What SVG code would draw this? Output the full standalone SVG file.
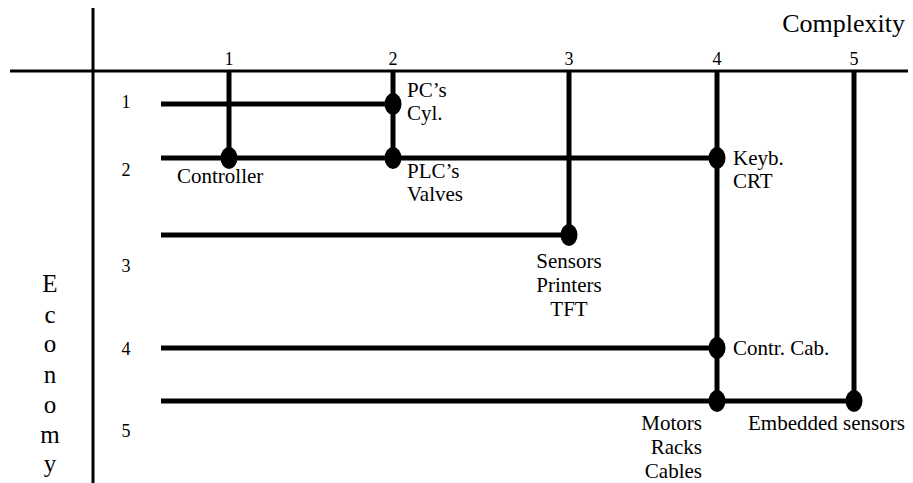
<svg xmlns="http://www.w3.org/2000/svg" width="913" height="483" viewBox="0 0 913 483">
<style>
text{font-family:"Liberation Serif","Times New Roman",serif;fill:#000}
.lab{font-size:21px}
.num{font-size:18px;text-anchor:middle}
.big{font-size:26px}
.eco{font-size:25px;text-anchor:middle}
.axis{stroke:#000;stroke-width:3;fill:none}
.ln{stroke:#000;stroke-width:5;fill:none}
.dot{fill:#000}
</style>
<g id="axes">
<line class="axis" x1="93" y1="8" x2="93" y2="483"/>
<line class="axis" x1="10" y1="71" x2="908" y2="71"/>
<text class="big" x="905" y="32" text-anchor="end">Complexity</text>
<text class="num" x="229" y="65">1</text>
<text class="num" x="393" y="65">2</text>
<text class="num" x="569" y="65">3</text>
<text class="num" x="717" y="65">4</text>
<text class="num" x="854" y="65">5</text>
<text class="num" x="126" y="108">1</text>
<text class="num" x="126" y="176">2</text>
<text class="num" x="126" y="272">3</text>
<text class="num" x="126" y="355">4</text>
<text class="num" x="126" y="437">5</text>
<text class="eco" x="50" y="292">E</text>
<text class="eco" x="50" y="323">c</text>
<text class="eco" x="50" y="352">o</text>
<text class="eco" x="50" y="383">n</text>
<text class="eco" x="50" y="413">o</text>
<text class="eco" x="50" y="443">m</text>
<text class="eco" x="50" y="472">y</text>
</g>
<g id="connectors">
<line class="ln" x1="161" y1="104" x2="393" y2="104"/>
<line class="ln" x1="161" y1="158" x2="717" y2="158"/>
<line class="ln" x1="161" y1="235" x2="569" y2="235"/>
<line class="ln" x1="161" y1="348" x2="717" y2="348"/>
<line class="ln" x1="161" y1="401" x2="854" y2="401"/>
<line class="ln" x1="229" y1="71" x2="229" y2="158"/>
<line class="ln" x1="393" y1="71" x2="393" y2="158"/>
<line class="ln" x1="569" y1="71" x2="569" y2="235"/>
<line class="ln" x1="717" y1="71" x2="717" y2="401"/>
<line class="ln" x1="854" y1="71" x2="854" y2="401"/>
</g>
<g id="n-pcs">
<ellipse class="dot" cx="393" cy="104" rx="8.5" ry="11"/>
<text class="lab" x="407" y="97">PC’s</text>
<text class="lab" x="407" y="120">Cyl.</text>
</g>
<g id="n-controller">
<ellipse class="dot" cx="229" cy="158" rx="8.5" ry="11"/>
<text class="lab" x="177" y="183">Controller</text>
</g>
<g id="n-plcs">
<ellipse class="dot" cx="393" cy="158" rx="8.5" ry="11"/>
<text class="lab" x="407" y="178">PLC’s</text>
<text class="lab" x="407" y="201">Valves</text>
</g>
<g id="n-keyb">
<ellipse class="dot" cx="717" cy="158" rx="8.5" ry="11"/>
<text class="lab" x="733" y="165">Keyb.</text>
<text class="lab" x="733" y="188">CRT</text>
</g>
<g id="n-sensors">
<ellipse class="dot" cx="569" cy="235" rx="8.5" ry="11"/>
<text class="lab" x="569" y="268" text-anchor="middle">Sensors</text>
<text class="lab" x="569" y="292" text-anchor="middle">Printers</text>
<text class="lab" x="569" y="316" text-anchor="middle">TFT</text>
</g>
<g id="n-contr">
<ellipse class="dot" cx="717" cy="348" rx="8.5" ry="11"/>
<text class="lab" x="733" y="355">Contr. Cab.</text>
</g>
<g id="n-motors">
<ellipse class="dot" cx="717" cy="401" rx="8.5" ry="11"/>
<text class="lab" x="702" y="430" text-anchor="end">Motors</text>
<text class="lab" x="702" y="454" text-anchor="end">Racks</text>
<text class="lab" x="702" y="478" text-anchor="end">Cables</text>
</g>
<g id="n-embedded">
<ellipse class="dot" cx="854" cy="401" rx="8.5" ry="11"/>
<text class="lab" x="748" y="430">Embedded sensors</text>
</g>
</svg>
